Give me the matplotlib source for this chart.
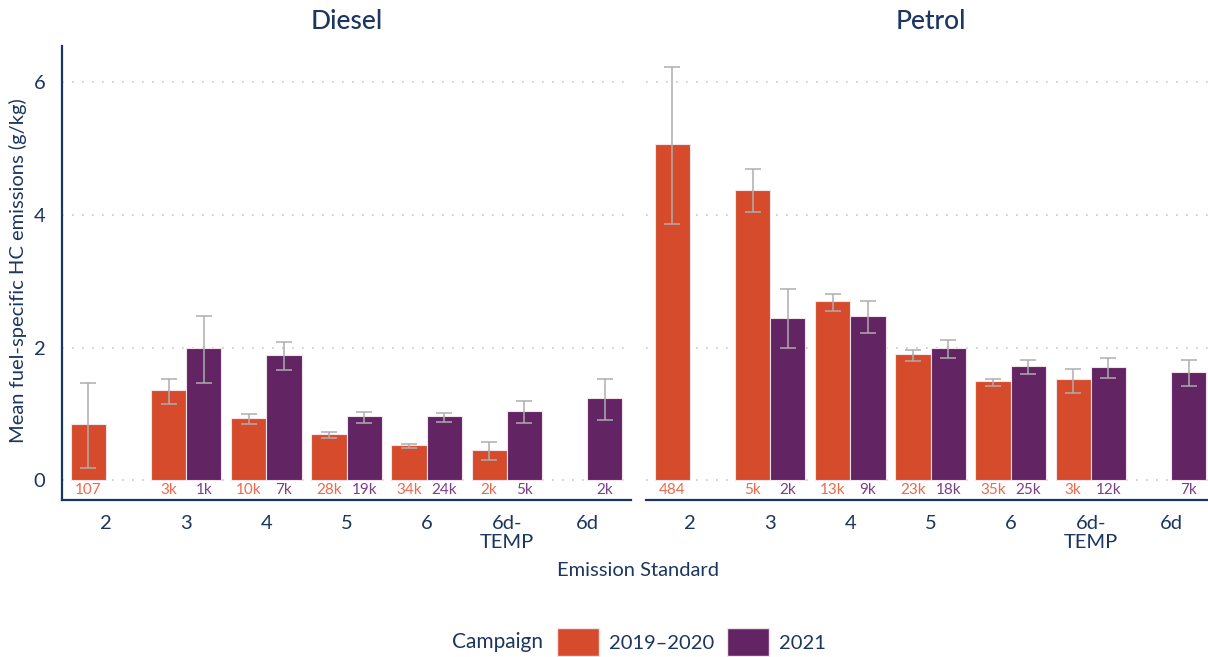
import numpy as np
import matplotlib.pyplot as plt
from matplotlib.patches import Patch

plt.rcParams["font.family"] = ["Lato", "DejaVu Sans"]

STANDARDS = ["2", "3", "4", "5", "6", "6d-\nTEMP", "6d"]
CAMPAIGNS = ["2019\u20132020", "2021"]

# mean, lower, upper (g/kg); nan = no data
diesel_1920 = [0.85, 1.36, 0.94, 0.69, 0.53, 0.46, np.nan]
diesel_1920_lo = [0.18, 1.15, 0.85, 0.64, 0.48, 0.31, np.nan]
diesel_1920_hi = [1.47, 1.52, 1.00, 0.72, 0.55, 0.58, np.nan]
diesel_21 = [np.nan, 2.00, 1.89, 0.96, 0.96, 1.04, 1.24]
diesel_21_lo = [np.nan, 1.47, 1.66, 0.86, 0.87, 0.86, 0.91]
diesel_21_hi = [np.nan, 2.48, 2.09, 1.03, 1.02, 1.19, 1.53]

petrol_1920 = [5.07, 4.38, 2.70, 1.90, 1.49, 1.52, np.nan]
petrol_1920_lo = [3.87, 4.05, 2.55, 1.80, 1.42, 1.32, np.nan]
petrol_1920_hi = [6.24, 4.69, 2.81, 1.96, 1.52, 1.68, np.nan]
petrol_21 = [np.nan, 2.45, 2.48, 1.99, 1.72, 1.71, 1.63]
petrol_21_lo = [np.nan, 1.99, 2.22, 1.84, 1.60, 1.54, 1.42]
petrol_21_hi = [np.nan, 2.88, 2.70, 2.11, 1.81, 1.84, 1.81]

diesel_n_1920 = ["107", "3k", "10k", "28k", "34k", "2k", ""]
diesel_n_21 = ["", "1k", "7k", "19k", "24k", "5k", "2k"]
petrol_n_1920 = ["484", "5k", "13k", "23k", "35k", "3k", ""]
petrol_n_21 = ["", "2k", "9k", "18k", "25k", "12k", "7k"]

RED = "#d64b2c"
PURPLE = "#622463"
RED_TXT = "#ea6a4c"
PURPLE_TXT = "#7a3f88"
NAVY = "#1b3660"
W = 0.44
FS = 14.5

fig = plt.figure(figsize=(12.08, 6.57), dpi=100)
ax_d = fig.add_axes([62 / 1208, 1 - 500 / 657, 569 / 1208, 454 / 657])
ax_p = fig.add_axes([646 / 1208, 1 - 500 / 657, 569 / 1208, 454 / 657])

panels = [
    (ax_d, "Diesel", (diesel_1920, diesel_1920_lo, diesel_1920_hi, diesel_n_1920),
     (diesel_21, diesel_21_lo, diesel_21_hi, diesel_n_21)),
    (ax_p, "Petrol", (petrol_1920, petrol_1920_lo, petrol_1920_hi, petrol_n_1920),
     (petrol_21, petrol_21_lo, petrol_21_hi, petrol_n_21)),
]

x = np.arange(len(STANDARDS))
for ax, title, s1, s2 in panels:
    ax.set_xlim(-0.55, 6.55)
    ax.set_ylim(-0.3, 6.55)
    for yv in [0, 2, 4, 6]:
        ax.axhline(yv, color="#c8c8c8", lw=1.2, ls=(0, (1, 5)), zorder=0)
    for (vals, lo, hi, ns), off, col, tcol in [(s1, -W / 2, RED, RED_TXT),
                                                (s2, W / 2, PURPLE, PURPLE_TXT)]:
        vals = np.array(vals)
        lo = np.array(lo)
        hi = np.array(hi)
        ax.bar(x + off, vals, width=W, color=col, edgecolor="#f3e4ec", lw=0.8, zorder=2)
        ax.errorbar(x + off, vals, yerr=[vals - lo, hi - vals], fmt="none",
                    ecolor="#adadad", elinewidth=1.1, capsize=6, capthick=1.1, zorder=3)
        for xi, n in zip(x + off, ns):
            if n:
                ax.text(xi, -0.15, n, ha="center", va="center", fontsize=11, color=tcol)
    ax.set_title(title, fontsize=19, color=NAVY, pad=12, fontweight="medium")
    for sp in ["top", "right", "left"]:
        ax.spines[sp].set_visible(False)
    ax.spines["bottom"].set_color(NAVY)
    ax.spines["bottom"].set_linewidth(1.6)
    ax.set_xticks(x)
    ax.set_xticklabels(STANDARDS, fontsize=FS, color=NAVY, linespacing=1.15)
    ax.tick_params(axis="both", length=0)
    ax.tick_params(axis="x", pad=11)

ax_d.spines["left"].set_visible(True)
ax_d.spines["left"].set_color(NAVY)
ax_d.spines["left"].set_linewidth(1.6)
ax_d.set_yticks([0, 2, 4, 6])
ax_d.set_yticklabels(["0", "2", "4", "6"], fontsize=FS, color=NAVY)
ax_d.tick_params(axis="y", pad=12)
ax_p.set_yticks([])

fig.text(18 / 1208, 1 - 271 / 657, "Mean fuel-specific HC emissions (g/kg)", rotation=90,
         ha="center", va="center", fontsize=FS, color=NAVY)

fig.text(638 / 1208, 1 - 571 / 657, "Emission Standard", ha="center", va="center",
         fontsize=FS, color=NAVY)

fig.text(452 / 1208, 1 - 642 / 657, "Campaign", ha="left", va="center",
         fontsize=FS + 0.5, color=NAVY)
handles = [Patch(facecolor=RED, edgecolor="#f3e4ec"), Patch(facecolor=PURPLE, edgecolor="#f3e4ec")]
fig.legend(handles, CAMPAIGNS, loc="center left", bbox_to_anchor=(557 / 1208, 1 - 642 / 657),
           ncol=2, frameon=False, fontsize=FS, handlelength=2.1, handleheight=1.7,
           handletextpad=0.5, columnspacing=0.6, labelcolor=NAVY, borderaxespad=0,
           borderpad=0)

fig.savefig("out.png", dpi=100)
